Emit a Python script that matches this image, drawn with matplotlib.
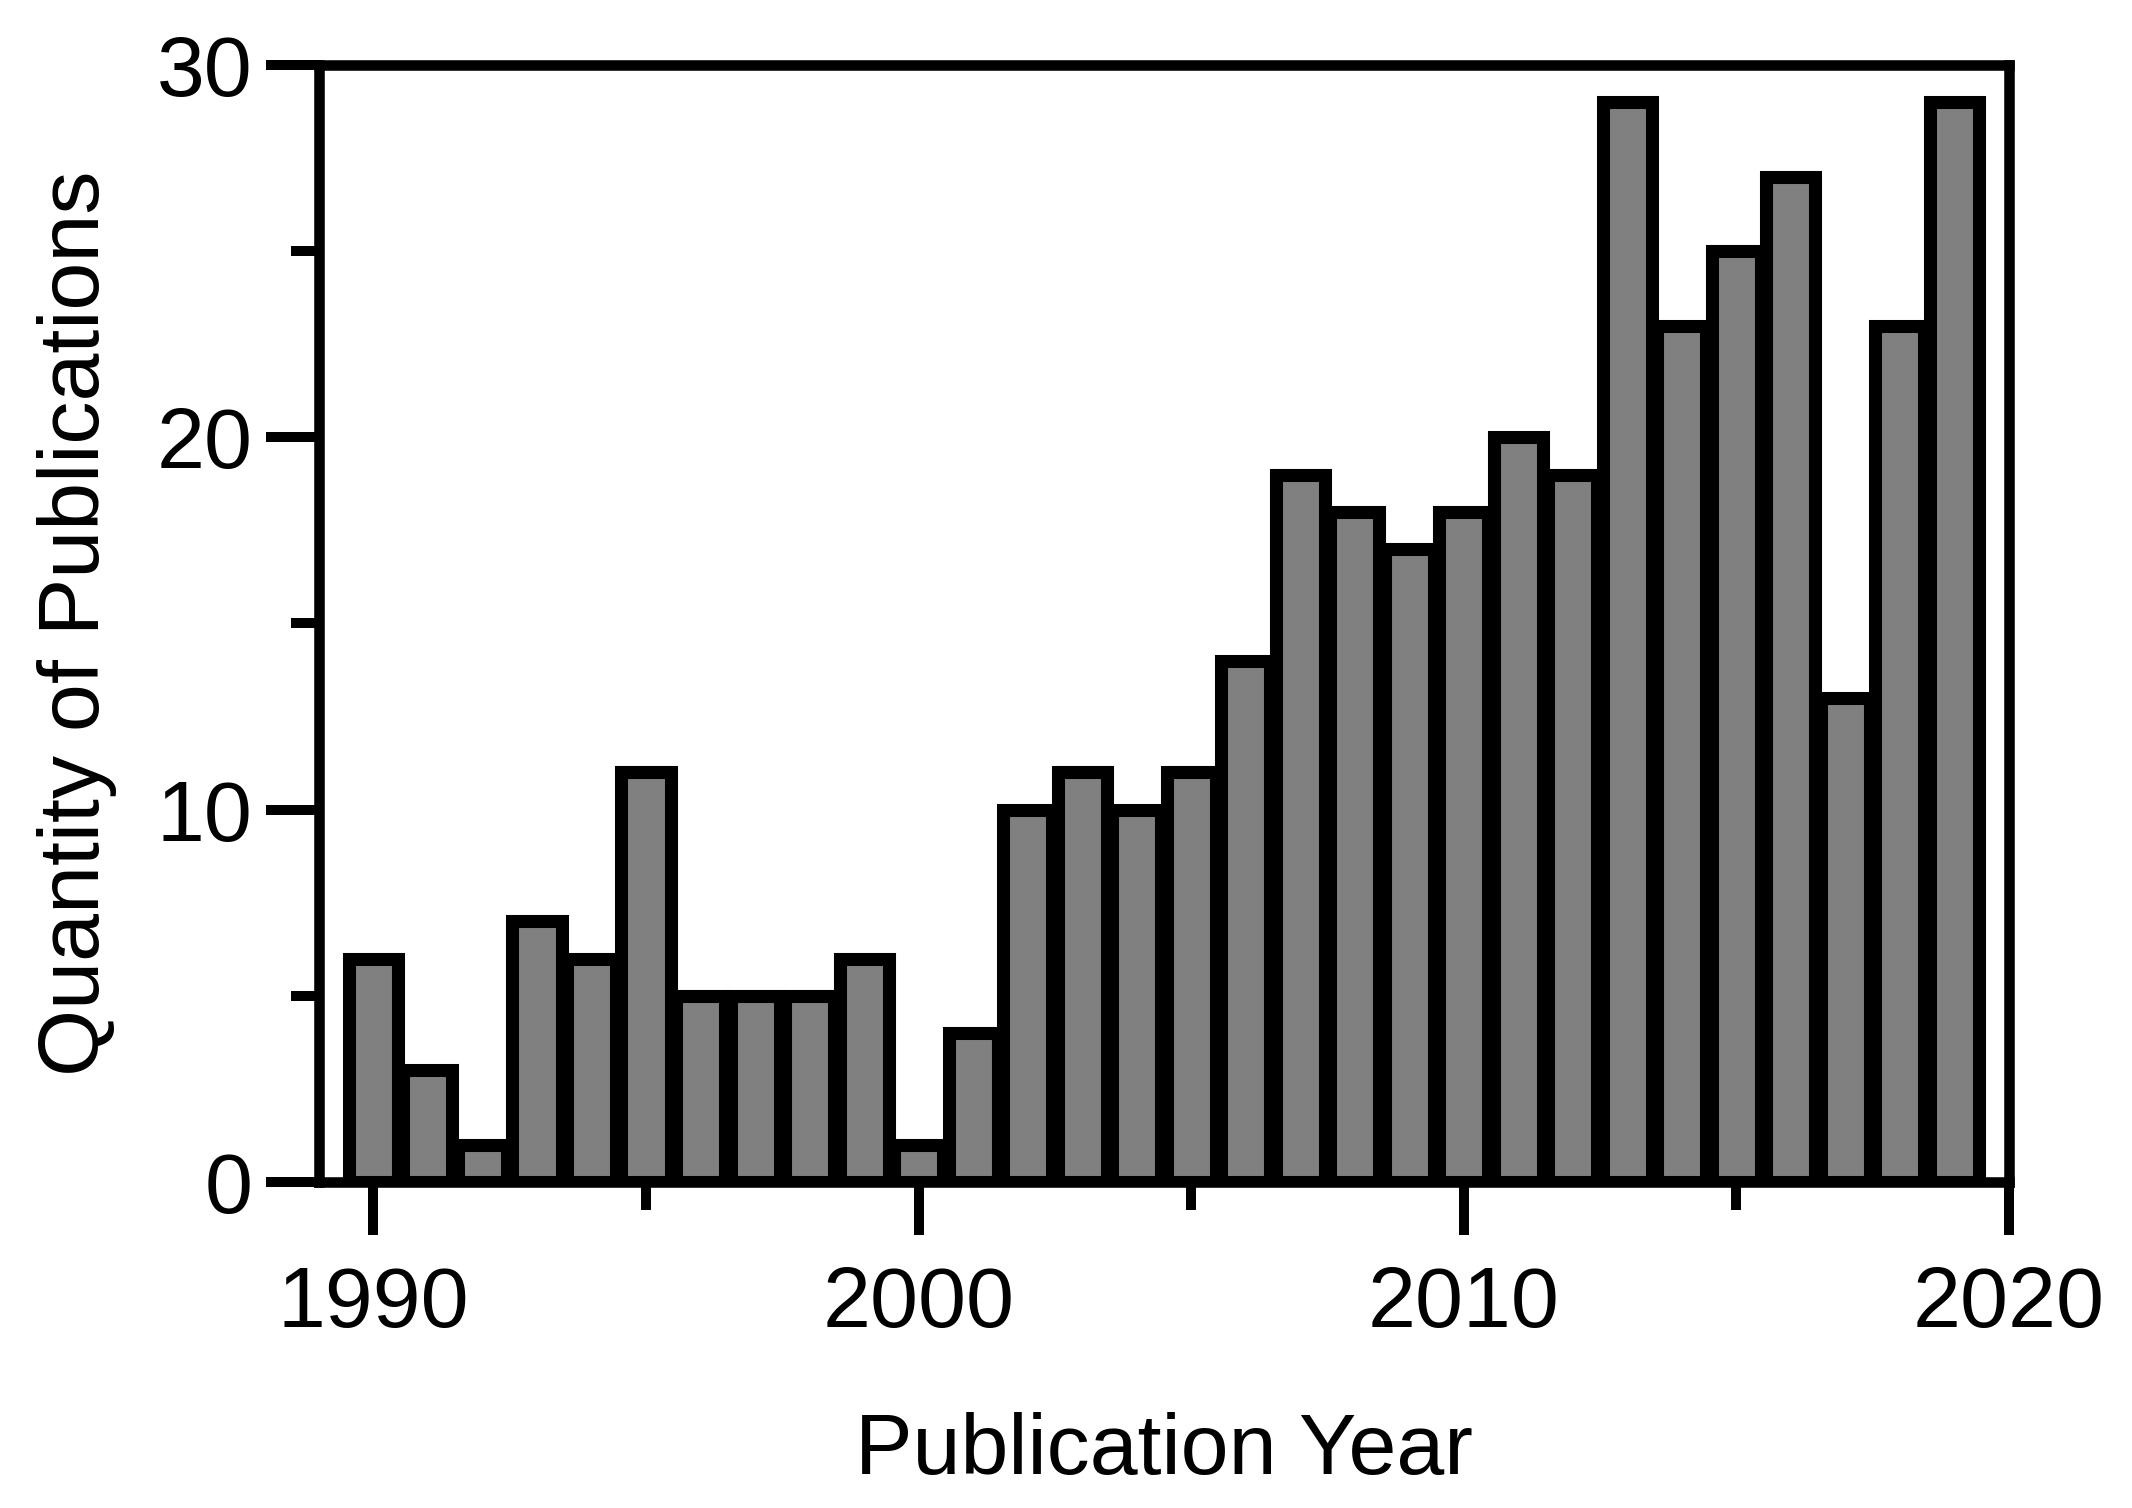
import matplotlib
matplotlib.use("Agg")
import matplotlib.pyplot as plt
from matplotlib.ticker import MultipleLocator

# publications per year
years = list(range(1990, 2020))
counts = [6, 3, 1, 7, 6, 11, 5, 5, 5, 6,
          1, 4, 10, 11, 10, 11, 14, 19, 18, 17,
          18, 20, 19, 29, 23, 25, 27, 13, 23, 29]

x_major = [1990, 2000, 2010, 2020]
y_major = [0, 10, 20, 30]

plt.rcParams["font.family"] = ["Liberation Sans", "DejaVu Sans"]
plt.rcParams["font.size"] = 31

fig = plt.figure(figsize=(2132 / 200, 1508 / 200), dpi=200)
ax = fig.add_axes([0.1496, 0.2162, 0.7926, 0.7407])

ax.bar(years, counts, width=0.9, color="#808080", edgecolor="black",
       linewidth=4.7, zorder=2)

ax.set_xlim(1989, 2020)
ax.set_ylim(0, 30)
ax.set_xticks(x_major)
ax.set_yticks(y_major)
ax.xaxis.set_minor_locator(MultipleLocator(5))
ax.yaxis.set_minor_locator(MultipleLocator(5))

for side in ["left", "right", "top", "bottom"]:
    ax.spines[side].set_linewidth(3.8)
    ax.spines[side].set_zorder(3)

ax.tick_params(axis="both", which="major", length=19, width=3.6, color="black")
ax.tick_params(axis="both", which="minor", length=10, width=3.6, color="black")
ax.tick_params(axis="x", which="major", pad=11)
ax.tick_params(axis="y", which="major", pad=5)

ax.set_xlabel("Publication Year", labelpad=24)
ax.set_ylabel("Quantity of Publications", labelpad=14)

fig.savefig("out.png", dpi=200)
